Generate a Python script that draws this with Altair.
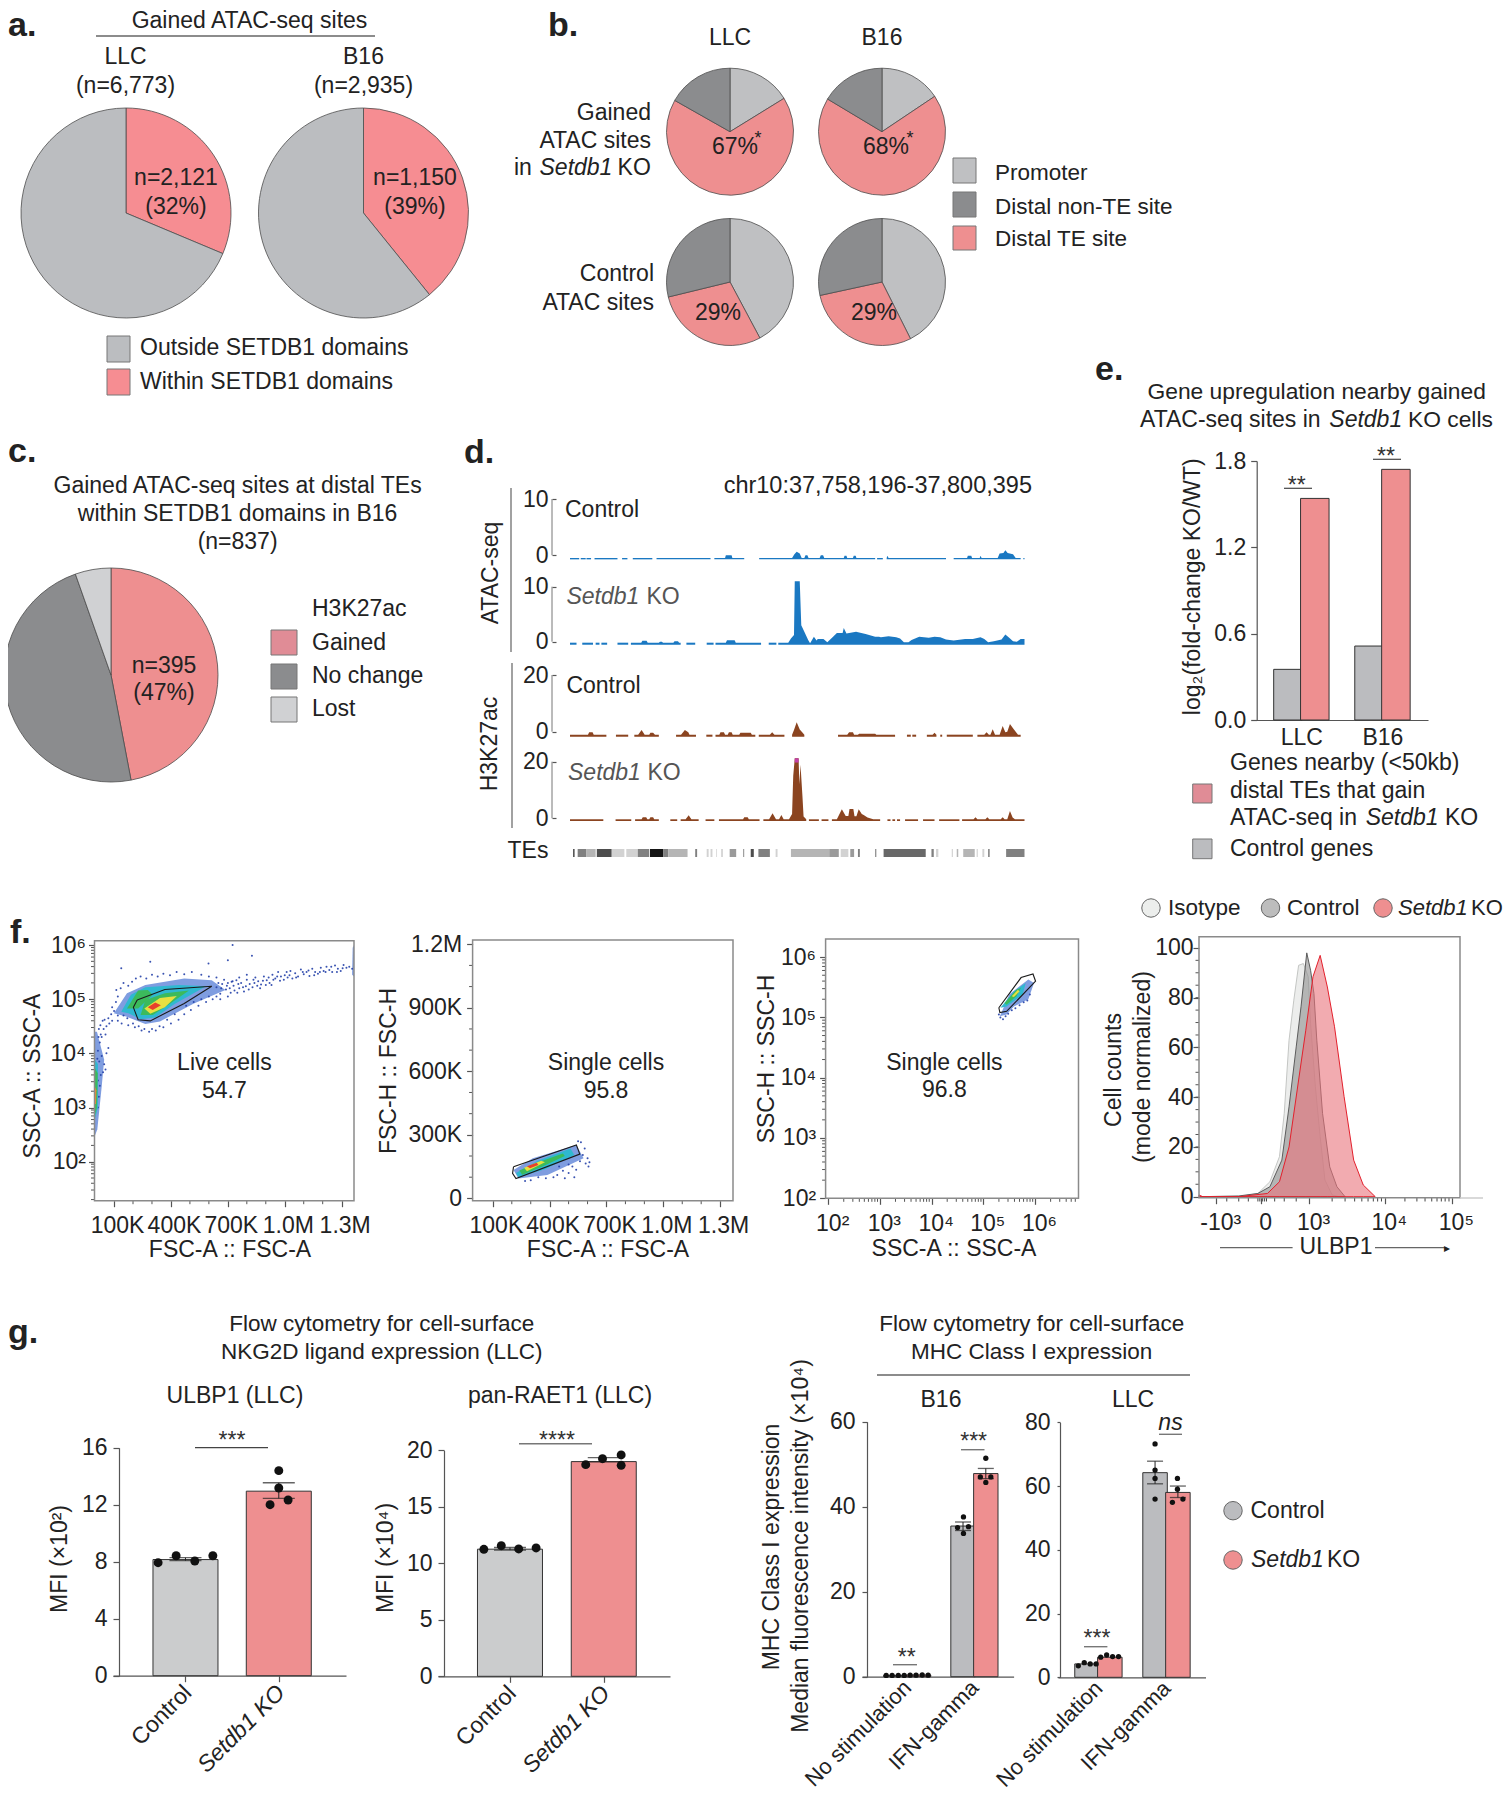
import json
import altair as alt
import pandas as pd

M = 8
W_ALL, H_ALL = 1495, 1784
FONT = "Liberation Sans"
INK = "#222222"
N = None

PAL = {
    "pink": "#f68d92", "grey": "#bbbdc0", "prom": "#bfc0c2", "nonte": "#8b8c8e", "te": "#ee8f90",
    "lost": "#d0d1d3", "gained": "#e08c96", "bar": "#cbcccd", "barb": "#bbbcbf",
    "atac": "#1a78c2", "h3": "#8b4420", "mag": "#c23fa8",
    "t2": "#d2d2d2", "t3": "#b5b5b5", "t4": "#9a9a9a", "t5": "#808080", "t6": "#686868", "t7": "#4d4d4d", "t9": "#151515",
    "d1": "#7f9de0", "d2": "#2fb8d0", "d3": "#3cba5c", "d4": "#e8e040", "d5": "#f08a30", "d6": "#e8402c",
    "iso": "#eceeec", "ctl": "#bdbdbd", "ko": "#ee8f90",
    "hiso": "#dfe1df", "hctl": "#8f8f8f", "hko": "#e9737c",
}
COLOR_SCALE = alt.Scale(domain=list(PAL), range=list(PAL.values()))

# ---- a, b, c pies
A_LLC = [2121, 4652]
A_B16 = [1150, 1785]
A_KEYS = ["pink", "grey"]
B_KEYS = ["prom", "te", "nonte"]
B_GAINED_LLC = [16.2, 67, 16.8]
B_GAINED_B16 = [15.6, 68, 16.4]
B_CONTROL_LLC = [42.2, 29, 28.8]
B_CONTROL_B16 = [42.6, 29, 28.4]
C_VALUES = [47, 47.6, 5.4]
C_KEYS = ["te", "nonte", "lost"]

# ---- d tracks: (position, signal), None = gap in the track
B1, B2, B3, B4 = -0.48, -0.18, -1.05, -0.35
TRACK1 = [(288,B1),(312,B1),N,(316,B1),(329,B1),N,(331,B1),(343,B1),N,(352,B1),(412,B1),N,(424,B1),(438,B1),N,(452,B1),(503,B1),N,(514,B1),(655,B1),N,(665,B1),(693,B1),(695,0),(710,0),(712,B1),(743,B1),N,(782,B1),(868,B1),(874,.2),(880,.64),(888,.3),(893,B1),(900,B1),(903,0),(908,0),(911,B1),(940,B1),(943,0),(949,0),(952,B1),(1003,B1),(1005,-.1),(1010,-.1),(1012,B1),(1027,B1),(1029,-.1),(1034,-.1),(1036,B1),(1085,B1),N,(1090,B1),(1105,B1),N,(1115,B1),(1117,-.1),(1120,B1),(1270,B1),N,(1290,B1),(1325,B1),(1327,-.1),(1336,-.1),(1338,B1),(1358,B1),(1360,-.1),(1363,B1),(1405,B1),(1410,.3),(1420,.4),(1425,.9),(1431,.4),(1445,.2),(1452,B1),(1465,B1),N,(1472,B1),(1475,B1)]
TRACK2 = [(288,B2),(305,B2),N,(320,B2),(348,B2),N,(355,B2),(365,B2),N,(370,B2),(385,B2),N,(412,B2),(440,B2),N,(447,B2),(474,B2),(477,.19),(488,.19),(491,B2),(520,B2),(523,0),(528,0),(531,B2),(558,B2),(561,.1),(570,.1),(573,B2),(577,B2),N,(592,B2),(615,B2),N,(645,B2),(663,B2),N,(668,B2),(695,B2),(698,.25),(718,.25),(721,B2),(787,B2),N,(807,B2),(827,B2),N,(832,B2),(858,B2),(865,.6),(873,1.2),(875,10.97),(888,10.97),(892,3),(900,1.8),(910,.3),(915,-.3),(925,.9),(932,.2),(935,.5),(950,.5),(960,-.1),(975,.9),(985,1.6),(1000,1.6),(1003,2.5),(1010,1.5),(1035,1.8),(1060,1.4),(1085,.9),(1095,.9),(1100,.8),(1120,1.0),(1140,.8),(1150,.6),(1160,-.1),(1172,-.1),(1180,.3),(1200,.9),(1225,.7),(1240,.9),(1255,.8),(1270,.4),(1290,.2),(1320,.5),(1340,.5),(1360,.8),(1370,.5),(1380,-.1),(1395,.1),(1415,.4),(1425,1.3),(1435,.7),(1445,.06),(1455,0),(1465,.5),(1475,.5)]
TRACK3 = [(288,B3),(335,B3),(338,-.2),(347,-.2),(350,B3),(383,B3),N,(408,B3),(440,B3),N,(456,B3),(466,B3),(475,.6),(483,B3),(495,B3),(498,-.35),(505,-.35),(510,B3),(520,B3),N,(565,B3),(578,B3),(588,.6),(597,-.2),(600,B3),(617,B3),N,(644,B3),(660,B3),N,(668,B3),(678,B3),(681,-.2),(690,-.2),(693,B3),(700,B3),(703,-.2),(710,-.2),(713,B3),(730,B3),(733,-.35),(760,-.35),(763,B3),(772,B3),N,(781,B3),(810,B3),(816,-.2),(822,B3),(848,B3),N,(868,B3),(873,.6),(880,3.3),(888,.8),(895,-.3),(900,B3),N,(988,B3),(1012,B3),(1017,-.2),(1027,-.2),(1030,B3),(1040,B3),(1043,-.7),(1085,-.7),(1088,B3),(1137,B3),N,(1168,B3),(1178,B3),N,(1182,B3),(1192,B3),N,(1220,B3),(1235,B3),(1240,-.35),(1245,B3),N,(1255,B3),(1260,B3),N,(1272,B3),(1340,B3),N,(1352,B3),(1370,B3),(1376,-.2),(1382,B3),(1386,B3),(1392,.86),(1398,B3),(1410,B3),(1418,2.0),(1425,-.2),(1430,0),(1437,2.7),(1445,1.2),(1452,0),(1458,B3),(1465,B3)]
TRACK4 = [(288,B4),(375,B4),N,(407,B4),(448,B4),N,(458,B4),(475,B4),(478,.35),(487,.35),(490,B4),(495,B4),(498,.35),(505,.35),(508,B4),(520,B4),N,(550,B4),(568,B4),N,(577,B4),(590,B4),(598,1.05),(605,B4),(624,B4),N,(642,B4),(665,B4),N,(677,B4),(740,B4),(743,.35),(752,.35),(755,B4),(783,B4),N,(793,B4),(808,B4),(817,1.77),(826,B4),(834,B4),(840,1.17),(846,B4),(860,B4),(868,1.5),(871,15),(875,21.2),(885,21.2),(887,12),(890,18.9),(895,8),(898,.6),(905,B4),N,(912,B4),(938,B4),N,(945,B4),(963,B4),N,(972,B4),(985,B4),(998,3.2),(1008,.8),(1015,.8),(1018,3.3),(1028,3.3),(1031,.7),(1036,.7),(1042,3.2),(1050,1.5),(1055,1.17),(1065,.3),(1080,B4),(1098,B4),N,(1117,B4),(1125,B4),N,(1130,B4),(1137,B4),N,(1142,B4),(1150,B4),N,(1163,B4),(1197,B4),N,(1210,B4),(1240,B4),N,(1252,B4),(1305,B4),N,(1312,B4),(1342,B4),(1347,.35),(1352,B4),(1373,B4),(1378,.35),(1383,B4),(1413,B4),(1418,.35),(1423,B4),(1430,B4),(1437,2.6),(1444,.3),(1450,B4),(1475,B4)]
TRACK4_TOP = [(875,21.2),(885,21.2)]
TES = [(296,300,"t7"),(308,330,"t5"),(330,355,"t3"),(358,397,"t7"),(397,430,"t2"),(435,465,"t2"),(465,495,"t5"),(497,532,"t9"),(532,545,"t5"),(545,595,"t3"),(615,620,"t5"),(645,650,"t2"),(655,660,"t2"),(670,672,"t2"),(684,686,"t4"),(705,722,"t4"),(740,743,"t4"),(760,768,"t7"),(780,810,"t5"),(825,830,"t2"),(865,965,"t3"),(965,990,"t4"),(995,1015,"t2"),(1020,1030,"t4"),(1040,1045,"t5"),(1085,1088,"t5"),(1107,1217,"t6"),(1232,1238,"t5"),(1244,1250,"t2"),(1285,1288,"t2"),(1298,1302,"t3"),(1315,1345,"t3"),(1350,1353,"t2"),(1365,1370,"t2"),(1380,1384,"t5"),(1427,1475,"t5")]

# ---- e
E_CATS = ["LLC", "B16"]
E_CONTROL = [0.352, 0.514]
E_TE = [1.54, 1.742]

# ---- f flow plots: density outlines (level, [(x, y), ...])
F1_HALO = [
 ("d1",[(99,4.74),(168,5.11),(265,5.26),(470,5.38),(615,5.35),(687,5.17),(521,4.92),(342,4.59),(265,4.54),(163,4.68)]),
 ("d1",[(-3,4.4),(10,4.4),(48,3.88),(35,3.39),(12,2.6),(-3,2.46)]),
 ("d1",[(1355,5.45),(1365,5.42),(1365,6.0),(1358,5.95)]),
]
F1_DENS = [
 ("d2",[(138,4.77),(189,5.08),(265,5.22),(444,5.26),(585,5.24),(419,4.91),(317,4.66),(240,4.63),(176,4.74)]),
 ("d2",[(-3,3.9),(15,3.8),(15,3.0),(-3,2.75)]),
 ("d3",[(168,4.83),(227,5.16),(278,5.17),(304,5.08),(227,4.83)]),
 ("d3",[(240,4.71),(265,4.985),(368,5.11),(495,5.16),(393,4.91),(304,4.71)]),
 ("d3",[(-3,3.75),(14,3.63),(10,3.0),(-3,2.83)]),
 ("d4",[(260,4.83),(342,5.02),(431,5.06),(368,4.85),(291,4.73)]),
 ("d5",[(-3,3.4),(7,3.32),(5,3.08),(-3,3.05)]),
 ("d6",[(278,4.85),(317,4.94),(347,4.89),(304,4.80)]),
]
F1_GATE = [(222,4.985),(368,5.18),(615,5.24),(470,4.92),(291,4.60),(227,4.62),(202,4.85),(222,4.985)]
F1_DOTS = [(640,5.22),(660,5.1),(670,5.28),(690,5.18),(700,5.3),(715,5.12),(730,5.25),(745,5.35),(760,5.2),(770,5.3),(785,5.14),(800,5.36),(815,5.28),(830,5.22),(845,5.4),(860,5.33),(875,5.27),(890,5.42),(905,5.35),(920,5.3),(935,5.45),(950,5.38),(965,5.5),(980,5.42),(995,5.36),(1010,5.5),(1025,5.44),(1040,5.38),(1055,5.48),(1070,5.42),(1085,5.55),(1100,5.46),(1115,5.5),(1130,5.43),(1145,5.56),(1160,5.5),(1175,5.47),(1190,5.58),(1205,5.52),(1220,5.6),(1235,5.54),(1250,5.5),(1265,5.62),(1280,5.56),(1295,5.52),(1310,5.63),(1325,5.58),(1340,5.6),(1355,5.56),
 (598,5.66),(725,6.0),(827,5.8),(291,5.69),(138,5.57),(112,5.17),(700,5.72),(650,5.3),(680,5.36),(710,5.2),(735,5.16),(755,5.28),(795,5.24),(840,5.3),(870,5.2),(900,5.26),(940,5.36),(975,5.34),(1015,5.4),
 (665,5.2),(695,5.25),(725,5.33),(750,5.12),(780,5.22),(810,5.18),(835,5.36),(855,5.25),(885,5.34),(915,5.4),(930,5.26),(960,5.42),(1000,5.44),(1030,5.52),(1060,5.4),(1095,5.5),(1125,5.53),(1155,5.44),(1185,5.5),(1215,5.5),(1245,5.6),(1275,5.5),(1305,5.57),
 (15,4.05),(25,4.2),(35,4.3),(20,4.45),(45,4.45),(60,4.5),(40,4.6),(30,4.35),(70,4.65),(55,4.35),(85,4.72),(50,4.62),(100,4.78),(75,4.55),(90,4.6),(120,4.7),(18,4.3),(28,4.52),(12,3.9),(22,3.85),(35,3.95),(48,3.8),(30,3.6),(42,3.65),(15,3.5),(25,3.4),(55,3.7),(60,4.0),(70,4.1),(20,3.2),(15,3.0),
 (230,4.5),(260,4.45),(300,4.45),(340,4.5),(380,4.62),(420,4.72),(200,4.55),(170,4.65),(150,4.7),(480,4.88),(520,4.95),(560,5.0),(600,5.05),(640,5.05),
 (90,4.85),(110,4.95),(120,5.05),(135,5.2),(150,5.3),(175,5.25),(195,5.32),(215,5.38),(240,5.42),(270,5.38),(300,5.45),(330,5.42),(360,5.47),(395,5.44),(430,5.5),(470,5.46),(510,5.5),(560,5.45),(600,5.42),(640,5.4),(120,4.6),(140,4.55),(175,4.52),(210,4.48),(245,4.42),(285,4.4),(320,4.42),(360,4.48),(400,4.55),(440,4.62),(470,4.72),(505,4.8),(545,4.88),(585,4.95),(620,5.0),(660,5.0),(700,5.05),(720,5.32),(760,5.4),(800,5.45)]
F2_HALO = [("d1",[(209,134),(311,189),(541,252),(579,189),(388,110),(235,94)])]
F2_DENS = [
 ("d2",[(222,120),(337,178),(510,235),(530,205),(375,138),(235,100)]),
 ("d3",[(240,132),(362,178),(470,212),(480,200),(362,150),(255,112)]),
 ("d4",[(265,145),(355,178),(375,170),(280,128)]),
 ("d6",[(280,152),(332,168),(340,158),(296,142)]),
]
F2_GATE = [(209,149),(541,252),(559,209),(222,94),(204,118),(209,149)]
F2_DOTS = [(440,110),(470,130),(500,120),(520,150),(540,135),(560,175),(575,205),(590,165),(585,235),(600,190),(610,170),(500,160),(450,150),(420,100),(380,95),(340,100),(300,85),(270,82),(565,265),(550,270),(605,150),(530,100),(480,95)]
F3_HALO = [("d1",[(5.32,5.02),(5.50,5.38),(5.87,5.63),(5.98,5.57),(5.87,5.30),(5.59,5.18),(5.45,5.05)])]
F3_DENS = [
 ("d2",[(5.33,5.16),(5.59,5.43),(5.82,5.57),(5.76,5.38),(5.45,5.18)]),
 ("d3",[(5.41,5.24),(5.64,5.46),(5.73,5.49),(5.64,5.35),(5.45,5.21)]),
 ("d4",[(5.55,5.35),(5.67,5.46),(5.70,5.43),(5.59,5.34)]),
]
F3_GATE = [(5.30,5.16),(5.73,5.66),(5.96,5.72),(6.01,5.60),(5.45,5.10),(5.32,5.08),(5.30,5.16)]
F3_DOTS = [(5.33,5.0),(5.38,4.97),(5.43,5.02),(5.48,5.06),(5.55,5.12),(5.62,5.15),(5.7,5.2),(5.78,5.25),(5.85,5.28),(5.9,5.38),(5.3,5.05)]

# histogram: display channel, cells (% of mode)
H_ISO = [(920,0),(1000,0),(1040,1.3),(1065,6),(1085,16.1),(1095,33.5),(1105,62.9),(1115,79),(1125,93),(1135,93.7),(1145,88.4),(1150,69.6),(1160,44.2),(1170,24.1),(1180,6.7),(1195,.7),(1210,0)]
H_CTL = [(920,0),(1000,.3),(1040,1.3),(1065,4),(1090,14.7),(1105,36.1),(1120,60.2),(1130,76.3),(1142,98),(1150,91),(1157,81.7),(1163,62.9),(1175,33.5),(1190,12),(1205,4),(1222,0)]
H_KO = [(917,.7),(925,0),(1000,0),(1060,1.3),(1085,6),(1105,20),(1125,46.9),(1140,66.9),(1155,88.4),(1170,97),(1185,84.3),(1200,68.3),(1220,40.2),(1240,14.7),(1260,4.7),(1285,0)]
H_TICKS = [953, 1047, 1147, 1305, 1445]
H_MINOR = [975,1000,1020,1040,1044,1050,1054,1058,1075,1095,1120,1195,1222,1242,1257,1270,1281,1290,1298,1347,1372,1389,1403,1414,1423,1431,1439]

# ---- g bars: (category index, offset in bar widths, value)
G_CATS = ["Control", "Setdb1 KO"]
U_MEAN = [8.15, 12.95]
U_ERR = [(8.07, 8.28), (12.44, 13.54)]
U_PTS = [(0,-.44,7.93),(0,-.15,8.42),(0,.15,8.05),(0,.44,8.42),(1,-.14,12.0),(1,0,13.17),(1,.15,12.33),(1,0,14.39)]
R_MEAN = [11.25, 19.0]
R_ERR = [(11.17, 11.4), (18.97, 19.35)]
R_PTS = [(0,-.42,11.24),(0,-.14,11.56),(0,.14,11.27),(0,.42,11.36),(1,-.29,18.73),(1,-.02,19.26),(1,.28,18.67),(1,.28,19.59)]
M_CATS = ["No stimulation", "IFN-gamma"]
MB_VALS = [(0,-.5,.3,"barb"),(0,.5,.4,"te"),(1,-.5,35.45,"barb"),(1,.5,47.8,"te")]
MB_ERR = [(1,-.5,34.4,36.4),(1,.5,46.6,49.0)]
MB_PTS = [(0,-.92,.3),(0,-.66,.3),(0,-.39,.3),(0,-.13,.3),(0,.13,.35),(0,.39,.35),(0,.66,.4),(0,.92,.35),(1,-.48,37.6),(1,-.74,35.1),(1,-.26,35.3),(1,-.48,33.7),(1,.5,51.4),(1,.26,47),(1,.72,47),(1,.5,45.7)]
ML_VALS = [(0,-.5,4.2,"barb"),(0,.5,6.3,"te"),(1,-.5,64.2,"barb"),(1,.5,58,"te")]
ML_ERR = [(1,-.5,60.7,67.8),(1,.5,56.4,60)]
ML_PTS = [(0,-.88,3.6),(0,-.62,4.6),(0,-.36,4.2),(0,-.1,4.2),(0,.1,6.3),(0,.36,7),(0,.62,6.5),(0,.88,6.5),(1,-.5,73.2),(1,-.5,65),(1,-.5,62.4),(1,-.5,55.9),(1,.48,62.4),(1,.48,59),(1,.26,54.9),(1,.72,55.9)]


def col(f="c"):
    return alt.Color(f + ":N", scale=COLOR_SCALE, legend=None)

def xaxis(ypix, **kw):
    kw.setdefault("grid", False)
    return alt.Axis(orient="bottom", offset=ypix - M - H_ALL, title=None, **kw)

def yaxis(xpix, **kw):
    kw.setdefault("grid", False)
    return alt.Axis(orient="left", offset=-(xpix - M), title=None, **kw)

def lin(domain, a, b):
    return alt.Scale(type="linear", domain=domain, range=[a - M, b - M], nice=False, zero=False)

layers = []

# ---------- pies
def pie(cx, cy, r, keys, vals):
    df = pd.DataFrame({"c": keys, "v": vals, "i": range(len(vals))})
    return alt.Chart(df).mark_arc(outerRadius=r, stroke="#4d4d4d", strokeWidth=0.8).encode(
        theta=alt.Theta("v:Q", stack=True), color=col(), order=alt.Order("i:Q"),
        x=alt.value(cx - M), y=alt.value(cy - M))

layers += [pie(126, 213, 105, A_KEYS, A_LLC), pie(363.5, 213, 105, A_KEYS, A_B16),
           pie(730, 131.7, 63.5, B_KEYS, B_GAINED_LLC), pie(882, 131.7, 63.5, B_KEYS, B_GAINED_B16),
           pie(730, 282, 63.5, B_KEYS, B_CONTROL_LLC), pie(882, 282, 63.5, B_KEYS, B_CONTROL_B16),
           pie(111, 675, 107, C_KEYS, C_VALUES)]

# ---------- d tracks
POS = lin([288, 1475], 570, 1024.5)

def track(points, floor, y0, y1, top, key, ticks, extra=None):
    rows, seg = [], 0
    for p in points:
        if p is None:
            seg += 1
        else:
            rows.append({"pos": p[0], "v": p[1], "floor": floor, "seg": seg, "c": key})
    ysc = lin([0, top], y0, y1)
    ax = yaxis(556, values=ticks, tickSize=4, labelPadding=4, domain=False)
    ch = alt.Chart(pd.DataFrame(rows)).mark_area(interpolate="linear").encode(
        x=alt.X("pos:Q", scale=POS, axis=None), y=alt.Y("v:Q", scale=ysc, axis=ax, stack=None),
        y2="floor:Q", detail="seg:N", color=col())
    if extra:
        ex = pd.DataFrame([{"pos": a, "v": b, "floor": 19.7, "c": "mag"} for a, b in extra])
        ch2 = alt.Chart(ex).mark_area().encode(
            x=alt.X("pos:Q", scale=POS, axis=None), y=alt.Y("v:Q", scale=ysc, axis=ax, stack=None),
            y2="floor:Q", color=col())
        return alt.layer(ch, ch2)
    return ch

layers += [track(TRACK1, -.72, 555.3, 499, 10, "atac", [0, 10]),
           track(TRACK2, -.55, 641.7, 586.7, 10, "atac", [0, 10]),
           track(TRACK3, -1.77, 731.7, 675, 20, "h3", [0, 20]),
           track(TRACK4, -.95, 818.3, 761.7, 20, "h3", [0, 20], TRACK4_TOP)]
te_df = pd.DataFrame(TES, columns=["a", "b", "c"])
layers.append(alt.Chart(te_df).mark_rect().encode(
    x=alt.X("a:Q", scale=POS, axis=None), x2="b:Q", y=alt.value(849 - M), y2=alt.value(857 - M), color=col()))

# ---------- e + g bar panels: x is the category index, bars and dots sit at index + offset
def bar_panel(cats, left, right, centers, ysc, w, xax_fn, yax, bars, errs, pts, ptsize, cap):
    step = centers[1] - centers[0]
    xsc = lin([(left - centers[0]) / step, (right - centers[0]) / step], left, right)
    names = json.dumps(cats, ensure_ascii=False)
    xax = xax_fn(names)
    X = alt.X("p:Q", scale=xsc, axis=xax)
    rel = w / step
    bd = pd.DataFrame([{"p": b[0] + b[1] * rel, "v": b[2], "c": b[3]} for b in bars])
    out = [alt.Chart(bd).mark_bar(width=w, stroke="#333333", strokeWidth=1).encode(
        x=X, y=alt.Y("v:Q", scale=ysc, axis=yax, stack=None), color=col())]
    if errs:
        ed = pd.DataFrame([{"p": e[0] + e[1] * rel, "lo": e[2], "hi": e[3]} for e in errs])
        base = alt.Chart(ed)
        out.append(base.mark_rule(color="#222222", strokeWidth=1).encode(
            x=X, y=alt.Y("lo:Q", scale=ysc, axis=yax), y2="hi:Q"))
        for f in ("lo", "hi"):
            out.append(base.mark_tick(orient="horizontal", size=cap, thickness=1.3, color="#222222").encode(
                x=X, y=alt.Y(f + ":Q", scale=ysc, axis=yax)))
    if pts:
        pt = pd.DataFrame([{"p": p[0] + p[1] * rel, "v": p[2]} for p in pts])
        out.append(alt.Chart(pt).mark_circle(size=ptsize, color="#111111", opacity=1).encode(
            x=X, y=alt.Y("v:Q", scale=ysc, axis=yax)))
    return alt.layer(*out)

def rot_axis(y, tick, italic_second, pad, size, shift):
    def make(names):
        kw = {}
        if italic_second:
            kw["labelFontStyle"] = {"condition": {"test": "datum.value == 1", "value": "italic"}, "value": "normal"}
        return xaxis(y, values=[0, 1], labelExpr=names + "[datum.value]", labelAngle=315, labelAlign="right",
                     labelBaseline="middle", tickSize=tick, labelPadding=pad, labelOffset=shift, labelFontSize=size, **kw)
    return make

def flat_axis(y):
    def make(names):
        return xaxis(y, values=[0, 1], labelExpr=names + "[datum.value]", tickSize=0, labelPadding=6)
    return make

layers.append(bar_panel(E_CATS, 1253, 1428, [1299, 1385], lin([0, 1.8], 720, 461), 28.5, flat_axis(720),
    yaxis(1256.7, values=[0, .6, 1.2, 1.8], labelExpr="format(datum.value,'.1f')", tickSize=6, labelPadding=5),
    [(0,-.5,E_CONTROL[0],"barb"),(0,.5,E_TE[0],"te"),(1,-.5,E_CONTROL[1],"barb"),(1,.5,E_TE[1],"te")], None, None, 0, 0))
layers.append(bar_panel(G_CATS, 113, 346, [183.5, 281], lin([0, 16], 1675.7, 1447.7), 65, rot_axis(1675.7, 6, True, 7, 23, 2),
    yaxis(119, values=[0, 4, 8, 12, 16], tickSize=6, labelPadding=6),
    [(0,0,U_MEAN[0],"bar"),(1,0,U_MEAN[1],"te")], [(0,0,*U_ERR[0]),(1,0,*U_ERR[1])], U_PTS, 80, 32))
layers.append(bar_panel(G_CATS, 438, 670, [508, 606], lin([0, 20], 1676.3, 1450.3), 65, rot_axis(1676.3, 6, True, 7, 23, 2),
    yaxis(444, values=[0, 5, 10, 15, 20], tickSize=6, labelPadding=6),
    [(0,0,R_MEAN[0],"bar"),(1,0,R_MEAN[1],"te")], [(0,0,*R_ERR[0]),(1,0,*R_ERR[1])], R_PTS, 80, 32))
layers.append(bar_panel(M_CATS, 862, 1013.6, [905, 977], lin([0, 60], 1676.7, 1421.7), 24.4, rot_axis(1676.7, 0, False, 7, 22, 0),
    yaxis(867, values=[0, 20, 40, 60], tickSize=5, labelPadding=7),
    MB_VALS, MB_ERR, MB_PTS, 28, 16))
layers.append(bar_panel(M_CATS, 1058, 1205.5, [1096, 1169], lin([0, 80], 1677.3, 1422.3), 24.5, rot_axis(1677.3, 0, False, 7, 22, 0),
    yaxis(1060, values=[0, 20, 40, 60, 80], tickSize=3, labelPadding=7),
    ML_VALS, ML_ERR, ML_PTS, 28, 16))

# ---------- f flow
def poly_rows(dens):
    rows = []
    for k, (lev, poly) in enumerate(dens):
        for i, (a, b) in enumerate(poly + [poly[0]]):
            rows.append({"x": a, "y": b, "c": lev, "poly": k, "i": i})
    return pd.DataFrame(rows)

def flow(xsc, ysc, xax, yax, halo, dens, gate, dots, xminor, yminor, ybottom, xleft):
    X = lambda f="x": alt.X(f + ":Q", scale=xsc, axis=xax)
    Y = lambda f="y": alt.Y(f + ":Q", scale=ysc, axis=yax)
    dd = pd.DataFrame(dots, columns=["x", "y"])
    gd = pd.DataFrame(gate, columns=["x", "y"]).assign(i=range(len(gate)))
    fill = lambda df: alt.Chart(df).mark_line(filled=True, strokeWidth=0).encode(
        x=X(), y=Y(), color=col(), detail="poly:N", order=alt.Order("i:Q"))
    out = [fill(poly_rows(halo)),
           alt.Chart(dd).mark_circle(size=4, color="#2440a8", opacity=0.9).encode(x=X(), y=Y()),
           fill(poly_rows(dens)),
           alt.Chart(gd).mark_line(color="#1a1a1a", strokeWidth=1.1).encode(x=X(), y=Y(), order=alt.Order("i:Q"))]
    if xminor:
        out.append(alt.Chart(pd.DataFrame({"x": xminor})).mark_rule(color="#555555").encode(
            x=X(), y=alt.value(ybottom - M), y2=alt.value(ybottom - M + 3.5)))
    if yminor:
        out.append(alt.Chart(pd.DataFrame({"y": yminor})).mark_rule(color="#555555").encode(
            y=Y(), x=alt.value(xleft - M), x2=alt.value(xleft - M - 3.5)))
    return alt.layer(*out)

K_LABEL = "datum.value>=1000 ? format(datum.value/1000,'.1f')+'M' : datum.value+'K'"
SUP = "'10'+['⁰','¹','²','³','⁴','⁵','⁶'][datum.value]"
LOG_MINOR = [.301, .477, .602, .699, .778, .845, .903, .954]
KT = [100, 400, 700, 1000, 1300]
KM = [200, 300, 500, 600, 800, 900, 1100, 1200]

layers.append(flow(lin([-3, 1365], 94.5, 354), lin([1.28, 6.08], 1200.7, 940.7),
    xaxis(1200.7, values=KT, labelExpr=K_LABEL, tickSize=6, domain=False, labelOffset=3, labelPadding=8),
    yaxis(94.5, values=[2, 3, 4, 5, 6], labelExpr=SUP, tickSize=6, domain=False, labelPadding=3),
    F1_HALO, F1_DENS, F1_GATE, F1_DOTS, KM, [e + m for e in (1, 2, 3, 4, 5) for m in LOG_MINOR if 1.28 < e + m], 1200.7, 94.5))
layers.append(flow(lin([-7, 1368], 472.6, 733), lin([-11, 1220], 1200.7, 940),
    xaxis(1200.7, values=KT, labelExpr=K_LABEL, tickSize=6, domain=False, labelOffset=3, labelPadding=8),
    yaxis(472.6, values=[0, 300, 600, 900, 1200],
          labelExpr="datum.value==0 ? '0' : datum.value>=1000 ? '1.2M' : datum.value+'K'", tickSize=6, domain=False, labelPadding=5),
    F2_HALO, F2_DENS, F2_GATE, F2_DOTS, KM, [100, 200, 400, 500, 700, 800, 1000, 1100], 1200.7, 472.6))
layers.append(flow(lin([1.95, 6.84], 825.6, 1078.5), lin([2.0, 6.3], 1198.3, 939),
    xaxis(1198.3, values=[2, 3, 4, 5, 6], labelExpr=SUP, tickSize=6, domain=False, labelOffset=4, labelPadding=8),
    yaxis(825.6, values=[2, 3, 4, 5, 6], labelExpr=SUP, tickSize=6, domain=False, labelPadding=4),
    F3_HALO, F3_DENS, F3_GATE, F3_DOTS, [e + m for e in (2, 3, 4, 5, 6) for m in LOG_MINOR if e + m < 6.84],
    [e + m for e in (2, 3, 4, 5) for m in LOG_MINOR], 1198.3, 825.6))

# histogram
HX = lin([917, 1462], 1199, 1460)
HY = lin([0, 104.5], 1196.7, 936.7)
hx_ax = xaxis(1197.7, values=H_TICKS, tickSize=6, domain=False, labelPadding=8, labelOffset=4,
              labelExpr="{953:'-10³',1047:'0',1147:'10³',1305:'10⁴',1445:'10⁵'}[datum.value]")
hy_ax = yaxis(1199, values=[0, 20, 40, 60, 80, 100], tickSize=6, domain=False, labelPadding=0)
def hist(vals, key, stroke):
    df = pd.DataFrame(vals, columns=["x", "y"]).assign(c=key, i=range(len(vals)))
    return alt.Chart(df).mark_area(fillOpacity=0.6, stroke=stroke, strokeWidth=1).encode(
        x=alt.X("x:Q", scale=HX, axis=hx_ax), y=alt.Y("y:Q", scale=HY, axis=hy_ax, stack=None), color=col())
layers.append(alt.layer(
    hist(H_ISO, "hiso", "#c4c6c4"), hist(H_CTL, "hctl", "#5c5c5c"), hist(H_KO, "hko", "#e3202c"),
    alt.Chart(pd.DataFrame({"x": H_MINOR})).mark_rule(color="#444444").encode(
        x=alt.X("x:Q", scale=HX, axis=hx_ax), y=alt.value(1197.7 - M), y2=alt.value(1201.5 - M)),
    alt.Chart(pd.DataFrame({"y": list(range(5, 100, 5))})).mark_rule(color="#555555").encode(
        y=alt.Y("y:Q", scale=HY, axis=hy_ax), x=alt.value(1199 - M), x2=alt.value(1195.5 - M)),
))

# ---------- annotation tables (pixel placed)
TEXT = {}
def t(x, y, s, size=23, align="center", italic=False, bold=False, angle=0, color=INK):
    TEXT.setdefault((size, align, italic, bold, angle, color), []).append({"x": x - M, "y": y - M, "s": s})
LINES = {}
def ln(x1, y1, x2, y2, color="#444444", w=1.2):
    LINES.setdefault((color, w), []).append({"x": x1 - M, "x2": x2 - M, "y": y1 - M, "y2": y2 - M})
SW = []
def sw(x1, y1, x2, y2, c):
    SW.append({"x": x1 - M, "x2": x2 - M, "y": y1 - M, "y2": y2 - M, "c": c})
DOT = []
def dot(x, y, c):
    DOT.append({"x": x - M, "y": y - M, "c": c})
def star(x, y, s):
    t(x, y + 6, s, color="#333333")

for lab, x, y in [("a.", 8, 26), ("b.", 548, 26), ("c.", 8, 452), ("d.", 464, 453), ("e.", 1095, 370), ("f.", 10, 933), ("g.", 8, 1333)]:
    t(x, y, lab, size=34, bold=True, align="left")

# a
t(249.5, 21, "Gained ATAC-seq sites"); ln(96, 36, 375, 36, "#666666", 1.5)
for cx, a, b, n1, n2, c2 in [(125.5, "LLC", "(n=6,773)", "n=2,121", "(32%)", 176), (363.5, "B16", "(n=2,935)", "n=1,150", "(39%)", 415)]:
    t(cx, 56.7, a); t(cx, 86, b); t(c2, 178, n1); t(c2, 207, n2)
sw(107, 336, 130, 362, "grey"); sw(107, 369, 130, 395, "pink")
t(140, 348, "Outside SETDB1 domains", align="left"); t(140, 382, "Within SETDB1 domains", align="left")
# b
t(730, 38, "LLC"); t(882, 38, "B16")
t(651, 112.7, "Gained", align="right"); t(651, 141, "ATAC sites", align="right")
t(514, 168, "in", align="left"); t(539.5, 168, "Setdb1", align="left", italic=True); t(617.6, 168, "KO", align="left")
t(654, 274, "Control", align="right"); t(654, 302.7, "ATAC sites", align="right")
t(735, 146.7, "67%"); t(886, 146.7, "68%"); t(718, 313, "29%"); t(874, 313, "29%")
t(758, 139, "*", size=18); t(910, 139, "*", size=18)
for (a, b, c, lab, y) in [(158, 183, "prom", "Promoter", 172.7), (192, 217, "nonte", "Distal non-TE site", 206.7), (226, 250, "te", "Distal TE site", 239)]:
    sw(953, a, 976, b, c); t(995, y, lab, size=22.5, align="left")
# c
t(237.6, 485.6, "Gained ATAC-seq sites at distal TEs"); t(237.6, 514, "within SETDB1 domains in B16"); t(237.6, 542, "(n=837)")
t(164, 666, "n=395"); t(164, 693, "(47%)")
t(312, 608.5, "H3K27ac", align="left")
for (a, b, c, lab, y) in [(630, 655, "gained", "Gained", 643), (664, 689, "nonte", "No change", 676), (697, 722, "lost", "Lost", 709)]:
    sw(271, a, 297, b, c); t(312, y, lab, align="left")
# d
t(1032, 486, "chr10:37,758,196-37,800,395", size=23.5, align="right")
t(490.6, 573, "ATAC-seq", angle=270); t(490, 744, "H3K27ac", angle=270)
ln(511, 488, 511, 652, "#8a8a8a", 1.6); ln(512, 663, 512, 828, "#8a8a8a", 1.6)
for y0, y1 in [(499, 555.3), (586.7, 641.7), (675, 731.7), (761.7, 818.3)]:
    ln(552, y0, 552, y1, "#777777", 1)
t(565, 510, "Control", align="left"); t(566.4, 685.7, "Control", align="left")
t(566.4, 597, "Setdb1", align="left", italic=True, color="#555555"); t(646.4, 597, "KO", align="left", color="#555555")
t(568, 772.7, "Setdb1", align="left", italic=True, color="#555555"); t(647.5, 772.7, "KO", align="left", color="#555555")
t(528, 850.7, "TEs")
# e
t(1316.7, 392, "Gene upregulation nearby gained", size=22.8)
t(1140, 420, "ATAC-seq sites in", align="left"); t(1329.3, 420, "Setdb1", align="left", italic=True); t(1408, 420, "KO cells", size=22.8, align="left")
t(1193, 586.7, "log₂(fold-change KO/WT)", angle=270)
star(1296.7, 480, "**"); ln(1284, 488.3, 1312, 488.3); star(1386, 450.7, "**"); ln(1373, 459.3, 1401, 459.3)
t(1230, 762.7, "Genes nearby (<50kb)", align="left"); t(1230, 790.7, "distal TEs that gain", align="left")
t(1230, 818, "ATAC-seq in", align="left"); t(1365.7, 818, "Setdb1", align="left", italic=True); t(1445, 818, "KO", align="left")
t(1230, 849, "Control genes", align="left")
sw(1192.7, 784, 1212, 803, "gained"); sw(1192.7, 839, 1212, 858.7, "barb")
# f
t(224.4, 1063, "Live cells"); t(224.4, 1091, "54.7"); t(606, 1063, "Single cells"); t(606, 1091, "95.8")
t(944.4, 1062.7, "Single cells"); t(944.4, 1090, "96.8")
t(230, 1250, "FSC-A :: FSC-A"); t(608, 1250, "FSC-A :: FSC-A"); t(954, 1249, "SSC-A :: SSC-A")
t(33, 1076, "SSC-A :: SSC-A", angle=270); t(389, 1071, "FSC-H :: FSC-H", angle=270); t(767, 1059, "SSC-H :: SSC-H", angle=270)
t(1113.5, 1070, "Cell counts", angle=270); t(1143, 1067, "(mode normalized)", angle=270)
t(1336, 1246.7, "ULBP1"); ln(1220, 1247.7, 1292.6, 1247.7, "#666666", 1.2); ln(1375, 1247.7, 1445, 1247.7, "#666666", 1.2)
t(1447, 1247.7, "▸", size=12)
dot(1151, 908, "iso"); dot(1270.5, 908, "ctl"); dot(1383, 908, "ko")
t(1168, 908, "Isotype", size=22.5, align="left"); t(1287, 908, "Control", size=22.5, align="left")
t(1398, 908, "Setdb1", size=22, align="left", italic=True); t(1471, 908, "KO", size=22, align="left")
sw(94.5, 940.7, 354, 1200.7, "frame"); sw(472.6, 940, 733, 1200.7, "frame"); sw(825.6, 939, 1078.5, 1198.3, "frame"); sw(1199, 936.7, 1460, 1197.7, "frame")
ln(1460, 1198, 1483, 1198, "#cccccc", 1.5)
# g
t(381.7, 1324, "Flow cytometry for cell-surface", size=22.5); t(381.7, 1351.7, "NKG2D ligand expression (LLC)", size=22.5)
t(235, 1395.7, "ULBP1 (LLC)"); t(560, 1395.7, "pan-RAET1 (LLC)")
t(60, 1559, "MFI  (×10²)", angle=270); t(386, 1558, "MFI  (×10⁴)", angle=270)
star(232, 1435, "***"); ln(195, 1447.7, 268, 1447.7); star(557, 1434.7, "****"); ln(519, 1443.7, 592, 1443.7, "#777777", 1.5)
t(1031.7, 1324, "Flow cytometry for cell-surface", size=22.5); t(1031.7, 1351.7, "MHC Class I expression", size=22.5); ln(877, 1375, 1190, 1375, "#666666", 1.4)
t(941, 1400, "B16"); t(1133, 1400, "LLC")
t(771.6, 1547, "MHC Class I expression", angle=270); t(801, 1546, "Median fluorescence intensity (×10⁴)", angle=270)
star(906.7, 1651.7, "**"); ln(893, 1664.7, 917, 1664.7, "#777777", 1.4); star(973.6, 1435.7, "***"); ln(961, 1449.7, 984.5, 1449.7, "#777777", 1.4)
t(1170.5, 1422.7, "ns", italic=True); ln(1159, 1434.3, 1182, 1434.3, "#777777", 1.4); star(1097, 1633, "***"); ln(1084, 1646.7, 1107.4, 1646.7, "#777777", 1.4)
dot(1233, 1510.7, "barb"); dot(1233, 1560, "te")
t(1250.5, 1510.7, "Control", align="left"); t(1251, 1560, "Setdb1", align="left", italic=True); t(1327, 1560, "KO", align="left")

PX = alt.X("x:Q", scale=None, axis=None)
PY = alt.Y("y:Q", scale=None, axis=None)
frames = [r for r in SW if r["c"] == "frame"]
swatches = [r for r in SW if r["c"] != "frame"]
layers.append(alt.Chart(pd.DataFrame(swatches)).mark_rect(stroke="#777777", strokeWidth=1).encode(
    x=PX, x2="x2:Q", y=PY, y2="y2:Q", color=col()))
layers.append(alt.Chart(pd.DataFrame(frames)).mark_rect(filled=False, stroke="#8a8a8a", strokeWidth=1.5).encode(
    x=PX, x2="x2:Q", y=PY, y2="y2:Q"))
layers.append(alt.Chart(pd.DataFrame(DOT)).mark_point(filled=True, size=340, opacity=1, stroke="#666666", strokeWidth=1).encode(
    x=PX, y=PY, color=col()))
for (color, w), rows in LINES.items():
    layers.append(alt.Chart(pd.DataFrame(rows)).mark_rule(color=color, strokeWidth=w).encode(
        x=PX, x2="x2:Q", y=PY, y2="y2:Q"))
for (size, align, italic, bold, angle, color), rows in TEXT.items():
    kw = {}
    if italic: kw["fontStyle"] = "italic"
    if bold: kw["fontWeight"] = "bold"
    if angle: kw["angle"] = angle
    layers.append(alt.Chart(pd.DataFrame(rows)).mark_text(font=FONT, fontSize=size, align=align, baseline="middle", color=color, **kw).encode(
        x=PX, y=PY, text="s:N"))

chart = alt.layer(*layers).resolve_scale(x="independent", y="independent", theta="independent").properties(
    width=W_ALL, height=H_ALL, padding=0, autosize=alt.AutoSizeParams(type="none"), background="white"
).configure_view(stroke=None).configure_axis(
    labelFont=FONT, labelFontSize=23, labelColor=INK, domainColor="#555555", tickColor="#555555",
    labelOverlap=False, labelFlush=False, labelBound=False, domainWidth=1.2, tickWidth=1.2
)

chart.save("out.html", embed_options={"renderer": "svg", "actions": False})
